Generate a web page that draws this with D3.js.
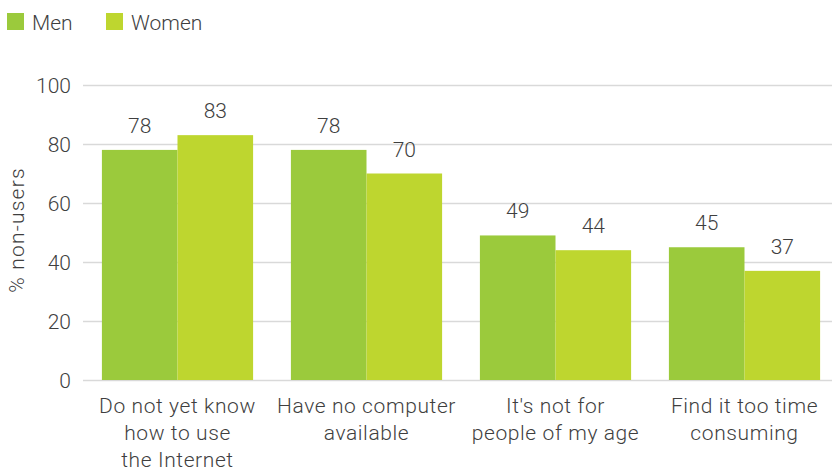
<!DOCTYPE html>
<html>
<head>
<meta charset="utf-8">
<script src="https://cdn.jsdelivr.net/npm/d3@7/dist/d3.min.js"></script>
<style>
  html, body { margin: 0; padding: 0; background: #fff; }
  svg { display: block; font-family: Roboto, "Noto Sans", sans-serif; font-weight: 300; }
</style>
</head>
<body>
<svg id="chart" width="832" height="468"></svg>
<script>
// Reasons for not using the Internet, by sex (% of non-users)
const categories = [
  ["Do not yet know", "how to use", "the Internet"],
  ["Have no computer", "available"],
  ["It's not for", "people of my age"],
  ["Find it too time", "consuming"]
];
const seriesNames = ["Men", "Women"];
const men = [78, 78, 49, 45];
const women = [83, 70, 44, 37];
const yTicks = [0, 20, 40, 60, 80, 100];
const colors = ["#9bca3c", "#bed62f"];
const textColor = "#3f3f3f";

const svg = d3.select("#chart");

const x0 = d3.scaleBand()
  .domain(d3.range(categories.length))
  .range([83, 839])
  .paddingInner(0.2)
  .paddingOuter(0.1);
const x1 = d3.scaleBand()
  .domain(d3.range(seriesNames.length))
  .range([0, x0.bandwidth()]);
const y = d3.scaleLinear().domain([0, 100]).range([380, 85]);

// Gridlines
svg.append("g")
  .selectAll("line")
  .data(yTicks)
  .join("line")
  .attr("x1", 83).attr("x2", 832)
  .attr("y1", d => y(d) + 0.5).attr("y2", d => y(d) + 0.5)
  .attr("stroke", "#d9d9d9")
  .attr("stroke-width", 1.5);

// Tick labels
svg.append("g")
  .selectAll("text")
  .data(yTicks)
  .join("text")
  .attr("x", 71)
  .attr("y", d => y(d))
  .attr("dy", "0.36em")
  .attr("text-anchor", "end")
  .attr("font-size", 21)
  .attr("fill", textColor)
  .text(d => d);

// Axis title
svg.append("text")
  .attr("transform", "translate(24,230) rotate(-90)")
  .attr("text-anchor", "middle")
  .attr("font-size", 21)
  .attr("letter-spacing", 1.2)
  .attr("fill", textColor)
  .text("% non-users");

// Bars and value labels
const series = [men, women];
const groups = svg.append("g")
  .selectAll("g")
  .data(categories.map((c, i) => i))
  .join("g")
  .attr("transform", i => `translate(${x0(i)},0)`);

groups.selectAll("rect")
  .data(i => series.map((s, k) => ({ k, v: s[i] })))
  .join("rect")
  .attr("x", d => x1(d.k))
  .attr("width", x1.bandwidth())
  .attr("y", d => y(d.v))
  .attr("height", d => y(0) - y(d.v))
  .attr("fill", d => colors[d.k]);

groups.selectAll("text.val")
  .data(i => series.map((s, k) => ({ k, v: s[i] })))
  .join("text")
  .attr("class", "val")
  .attr("x", d => x1(d.k) + x1.bandwidth() / 2)
  .attr("y", d => y(d.v) - 17)
  .attr("text-anchor", "middle")
  .attr("font-size", 21)
  .attr("fill", textColor)
  .text(d => d.v);

// Category labels
svg.append("g")
  .selectAll("text")
  .data(categories)
  .join("text")
  .attr("text-anchor", "middle")
  .attr("font-size", 21)
  .attr("letter-spacing", 0.6)
  .attr("fill", textColor)
  .each(function (lines, i) {
    d3.select(this).selectAll("tspan")
      .data(lines)
      .join("tspan")
      .attr("x", x0(i) + x0.bandwidth() / 2)
      .attr("y", (d, j) => 413 + j * 27)
      .text(d => d);
  });

// Legend
const legendX = [7, 106];
const legend = svg.append("g")
  .selectAll("g")
  .data(seriesNames)
  .join("g")
  .attr("transform", (d, i) => `translate(${legendX[i]},0)`);
legend.append("rect")
  .attr("x", 0).attr("y", 13)
  .attr("width", 17).attr("height", 17)
  .attr("fill", (d, i) => colors[i]);
legend.append("text")
  .attr("x", 25).attr("y", 30)
  .attr("font-size", 21)
  .attr("fill", textColor)
  .text(d => d);
</script>
</body>
</html>
